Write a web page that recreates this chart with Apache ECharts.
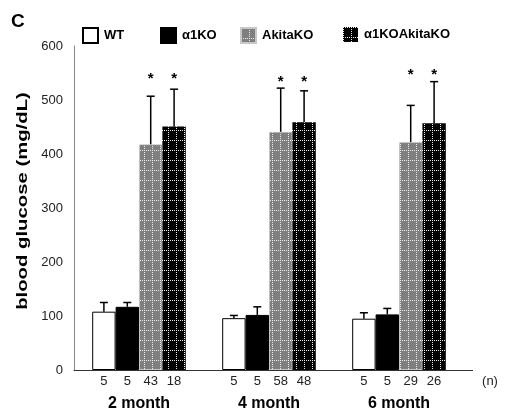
<!DOCTYPE html>
<html>
<head>
<meta charset="utf-8">
<script src="https://cdn.jsdelivr.net/npm/echarts@6/dist/echarts.min.js"></script>
<style>html,body{margin:0;padding:0;background:#fff;}#c{width:505px;height:416px;}</style>
</head>
<body>
<div id="c"></div>
<script>
const categories = ['2 month', '4 month', '6 month'];
const seriesNames = ['WT', 'α1KO', 'AkitaKO', 'α1KOAkitaKO'];
const wtMean = [108, 96, 95];
const wtSD = [17, 5, 11];
const wtN = [5, 5, 5];
const koMean = [117, 102, 103];
const koSD = [8, 15, 11];
const koN = [5, 5, 5];
const akitaMean = [418, 441, 422];
const akitaSD = [89, 81, 68];
const akitaN = [43, 58, 29];
const dkoMean = [451, 459, 457];
const dkoSD = [69, 58, 77];
const dkoN = [18, 48, 26];
const starLevel = [540, 533, 546];
const yTicks = [0, 100, 200, 300, 400, 500, 600];

const FONT = '"Liberation Sans", Arial, Helvetica, sans-serif';

function makePattern(bg, dot) {
  const c = document.createElement('canvas');
  c.width = 8; c.height = 10;
  const ctx = c.getContext('2d');
  ctx.fillStyle = bg; ctx.fillRect(0, 0, 8, 10);
  ctx.fillStyle = dot;
  for (let x = 0; x < 8; x += 2) ctx.fillRect(x, 0, 1, 1);
  for (let y = 0; y < 10; y += 2) ctx.fillRect(0, y, 1, 1);
  return { image: c, repeat: 'repeat' };
}

const means = [wtMean, koMean, akitaMean, dkoMean];
const sds = [wtSD, koSD, akitaSD, dkoSD];
const ns = [wtN, koN, akitaN, dkoN];
const styles = [
  { color: '#ffffff', borderColor: '#000', borderWidth: 1 },
  { color: '#000000', borderColor: '#000', borderWidth: 1 },
  { color: makePattern('#7f7f7f', '#eeeeee'), borderColor: '#c8c8c8', borderWidth: 1, borderType: 'dotted' },
  { color: makePattern('#000000', '#eeeeee'), borderColor: '#000', borderWidth: 0 }
];
const BAR_FRAC = 0.18;

const series = [];
seriesNames.forEach((name, i) => {
  series.push({
    name: name,
    type: 'bar',
    barWidth: (BAR_FRAC * 100) + '%',
    barGap: '0%',
    data: means[i],
    itemStyle: styles[i],
    label: {
      show: true, position: 'bottom', distance: 5,
      color: '#222', fontSize: 13, fontFamily: FONT,
      formatter: p => String(ns[i][p.dataIndex])
    },
    silent: true
  });
});
seriesNames.forEach((name, i) => {
  series.push({
    type: 'custom',
    encode: { x: 0, y: 1 },
    data: means[i].map((m, k) => [k, m, sds[i][k]]),
    z: 3,
    renderItem: function (params, api) {
      const cat = api.value(0), m = api.value(1), sd = api.value(2);
      const base = api.coord([cat, m]);
      const top = api.coord([cat, m + sd]);
      const bw = api.size([1, 0])[0] * BAR_FRAC;
      const x = base[0] + (i - 1.5) * bw;
      const children = [
        { type: 'line', shape: { x1: x, y1: base[1], x2: x, y2: top[1] }, style: { stroke: '#000', lineWidth: 1.5 } },
        { type: 'line', shape: { x1: x - 4, y1: top[1], x2: x + 4, y2: top[1] }, style: { stroke: '#000', lineWidth: 1.5 } }
      ];
      if (i >= 2) {
        const s = api.coord([cat, starLevel[cat]]);
        children.push({ type: 'text', x: x, y: s[1], style: { text: '*', font: 'bold 15px ' + FONT, fill: '#000', align: 'center', verticalAlign: 'middle' } });
      }
      return { type: 'group', children: children };
    }
  });
});

const legendLefts = [82, 160, 240, 343];
const legends = seriesNames.map((n, i) => ({
  data: [n], left: legendLefts[i], top: 27, padding: 0, itemWidth: 15, itemHeight: 15, itemGap: 9,
  icon: 'rect', selectedMode: false,
  textStyle: { fontFamily: FONT, fontWeight: 'bold', fontSize: 13, color: '#000', padding: [0, 0, 0, 1] }
}));

const chart = echarts.init(document.getElementById('c'), null, { renderer: 'canvas' });
chart.setOption({
  animation: false,
  backgroundColor: '#fff',
  legend: legends,
  grid: { left: 74, right: 41, top: 46, bottom: 46 },
  xAxis: {
    type: 'category', data: categories,
    axisLine: { lineStyle: { color: '#333', width: 1 } },
    axisTick: { show: false },
    axisLabel: { margin: 26, fontFamily: FONT, fontWeight: 'bold', fontSize: 16, color: '#000' }
  },
  yAxis: {
    type: 'value', min: 0, max: 600, interval: 100,
    axisLine: { show: true, lineStyle: { color: '#888', width: 1 } },
    axisTick: { show: false },
    splitLine: { show: false },
    axisLabel: { margin: 11, fontFamily: FONT, fontSize: 13, color: '#222', formatter: v => yTicks.includes(v) ? String(v) : '' }
  },
  graphic: [
    { type: 'text', left: 11, top: 12, style: { text: 'C', font: 'bold 19px ' + FONT, fill: '#000' } },
    { type: 'text', x: 23, y: 201, rotation: Math.PI / 2, scaleX: 1.45, style: { text: 'blood glucose (mg/dL)', font: 'bold 14px ' + FONT, fill: '#000', align: 'center', verticalAlign: 'middle' } },
    { type: 'text', x: 490, y: 381, style: { text: '(n)', font: '13px ' + FONT, fill: '#222', align: 'center', verticalAlign: 'middle' } },
    { type: 'line', shape: { x1: 464, y1: 370.5, x2: 473, y2: 370.5 }, style: { stroke: '#333', lineWidth: 1 } }
  ],
  series: series
});
</script>
</body>
</html>
